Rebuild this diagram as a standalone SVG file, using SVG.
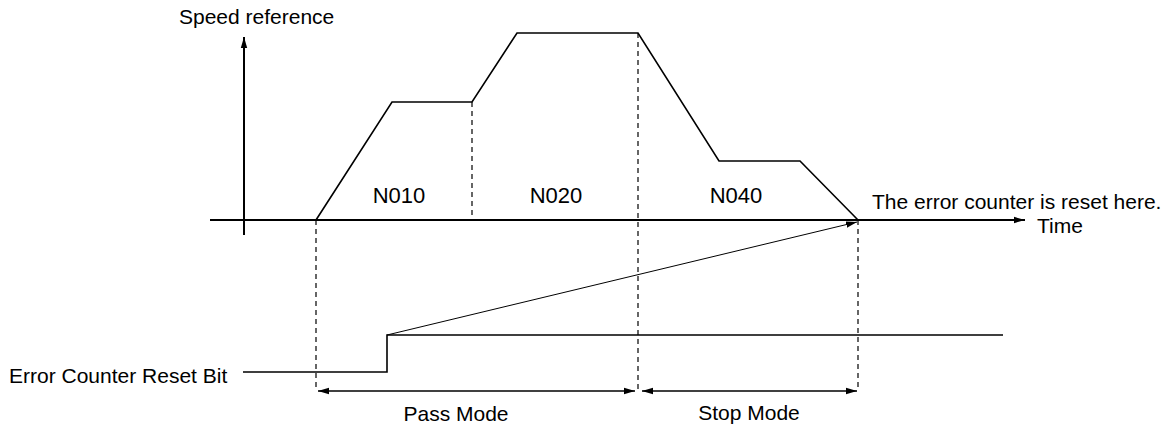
<svg xmlns="http://www.w3.org/2000/svg" width="1169" height="427" viewBox="0 0 1169 427">
<style>
text{font-family:"Liberation Sans",Arial,sans-serif;font-size:21px;fill:#000}
.n{font-size:22px}
.ax{stroke:#000;stroke-width:2;fill:none}
.prof{stroke:#000;stroke-width:1.6;fill:none;stroke-linejoin:miter}
.dash{stroke:#000;stroke-width:1.2;stroke-dasharray:5,4;fill:none}
.thin{stroke:#000;stroke-width:1;fill:none}
.dim{stroke:#000;stroke-width:1.5;fill:none}
</style>
<defs>
<marker id="ah" markerWidth="12" markerHeight="8" refX="11" refY="4" orient="auto" markerUnits="userSpaceOnUse">
<path d="M0,0.8 L11,4 L0,7.2 Z" fill="#000"/>
</marker>
<marker id="ahs" markerWidth="12" markerHeight="8" refX="0" refY="4" orient="auto" markerUnits="userSpaceOnUse">
<path d="M11,0.8 L0,4 L11,7.2 Z" fill="#000"/>
</marker>
</defs>
<rect width="1169" height="427" fill="#fff"/>
<g id="axes">
<line class="ax" x1="244" y1="235" x2="244" y2="37" marker-end="url(#ah)"/>
<line class="ax" x1="210" y1="220" x2="1025" y2="220" marker-end="url(#ah)"/>
<text x="179" y="24">Speed reference</text>
<text x="1037" y="233">Time</text>
</g>
<g id="speed-profile">
<polyline class="prof" points="316,220 392,102 472,102 517,33 638,33 719,161 800,161 858,220"/>
</g>
<g id="segment-labels">
<text class="n" x="399" y="203" text-anchor="middle">N010</text>
<text class="n" x="556" y="203" text-anchor="middle">N020</text>
<text class="n" x="736" y="203" text-anchor="middle">N040</text>
</g>
<g id="guides">
<line class="dash" x1="316" y1="220" x2="316" y2="391"/>
<line class="dash" x1="472" y1="102" x2="472" y2="220"/>
<line class="dash" x1="638" y1="33" x2="638" y2="391"/>
<line class="dash" x1="858" y1="220" x2="858" y2="391"/>
</g>
<g id="reset-bit">
<polyline class="prof" points="243,372 387,372 387,335 1003,335"/>
<text x="9" y="383">Error Counter Reset Bit</text>
</g>
<g id="connectors">
<line class="thin" x1="387" y1="335" x2="857" y2="222" marker-end="url(#ah)"/>
<line class="dim" x1="318" y1="391" x2="635" y2="391" marker-start="url(#ahs)" marker-end="url(#ah)"/>
<line class="dim" x1="642" y1="391" x2="857" y2="391" marker-start="url(#ahs)" marker-end="url(#ah)"/>
</g>
<g id="notes">
<text x="872" y="209">The error counter is reset here.</text>
<text x="456" y="421" text-anchor="middle">Pass Mode</text>
<text x="749" y="420" text-anchor="middle">Stop Mode</text>
</g>
</svg>
